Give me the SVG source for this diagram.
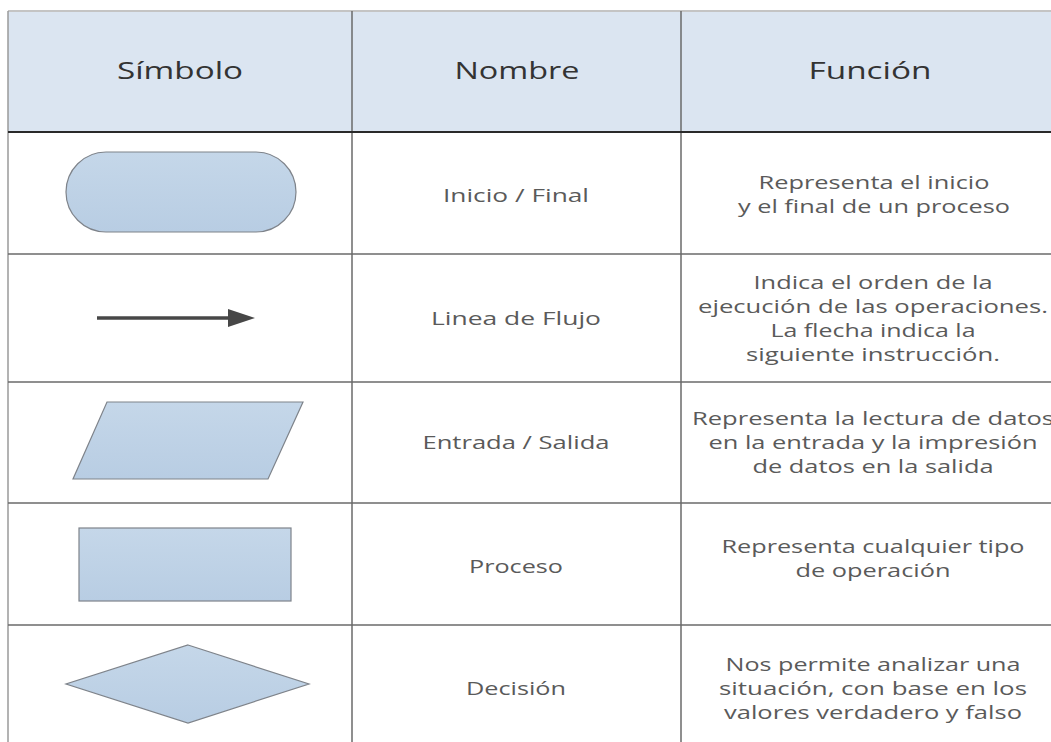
<svg xmlns="http://www.w3.org/2000/svg" width="1051" height="742" viewBox="0 0 1051 742">
<style>
.hdr{font-family:"Open Sans","Noto Sans",sans-serif;font-size:24px;font-weight:500;fill:#333333;text-anchor:middle}
.name{font-family:"Open Sans","Noto Sans",sans-serif;font-size:19px;fill:#5a5a5a;text-anchor:middle}
.desc{font-family:"Open Sans","Noto Sans",sans-serif;font-size:19px;fill:#5a5a5a;text-anchor:middle}
.grid{stroke:#6a6a6a;stroke-width:1.5;fill:none}
.shape{fill:url(#blue);stroke:#7e838a;stroke-width:1.2}
</style>
<defs>
<linearGradient id="blue" x1="0" y1="0" x2="0" y2="1">
<stop offset="0" stop-color="#c5d7e9"/>
<stop offset="1" stop-color="#b8cde3"/>
</linearGradient>
</defs>
<rect width="1051" height="742" fill="#ffffff"/>
<g id="header">
<rect x="8" y="11" width="1043" height="121" fill="#dbe5f1"/>
<line x1="8" y1="11" x2="1051" y2="11" stroke="#c4c4c4" stroke-width="2"/>
<text class="hdr" x="180" y="79" textLength="126" lengthAdjust="spacingAndGlyphs">Símbolo</text>
<text class="hdr" x="517" y="79" textLength="125" lengthAdjust="spacingAndGlyphs">Nombre</text>
<text class="hdr" x="870" y="79" textLength="123" lengthAdjust="spacingAndGlyphs">Función</text>
</g>
<g id="grid">
<line x1="8" y1="11" x2="8" y2="742" stroke="#9a9a9a" stroke-width="1.5"/>
<line class="grid" x1="352" y1="11" x2="352" y2="742"/>
<line class="grid" x1="681" y1="11" x2="681" y2="742"/>
<line x1="8" y1="132" x2="1051" y2="132" stroke="#2a2a2a" stroke-width="2"/>
<line class="grid" x1="8" y1="254" x2="1051" y2="254"/>
<line class="grid" x1="8" y1="382" x2="1051" y2="382"/>
<line class="grid" x1="8" y1="503" x2="1051" y2="503"/>
<line class="grid" x1="8" y1="625" x2="1051" y2="625"/>
</g>
<g id="row-inicio">
<rect class="shape" x="66" y="152" width="230" height="80" rx="40" ry="40"/>
<text class="name" x="516" y="202" textLength="146" lengthAdjust="spacingAndGlyphs">Inicio / Final</text>
<text class="desc" x="874" y="189" textLength="231" lengthAdjust="spacingAndGlyphs">Representa el inicio</text>
<text class="desc" x="874" y="213" textLength="272" lengthAdjust="spacingAndGlyphs">y el final de un proceso</text>
</g>
<g id="row-flujo">
<line x1="97" y1="318" x2="232" y2="318" stroke="#474747" stroke-width="3.5"/>
<polygon points="228,309 255,318 228,327" fill="#474747"/>
<text class="name" x="516" y="325" textLength="170" lengthAdjust="spacingAndGlyphs">Linea de Flujo</text>
<text class="desc" x="873" y="289" textLength="239" lengthAdjust="spacingAndGlyphs">Indica el orden de la</text>
<text class="desc" x="873" y="313" textLength="350" lengthAdjust="spacingAndGlyphs">ejecución de las operaciones.</text>
<text class="desc" x="873" y="337" textLength="205" lengthAdjust="spacingAndGlyphs">La flecha indica la</text>
<text class="desc" x="873" y="361" textLength="254" lengthAdjust="spacingAndGlyphs">siguiente instrucción.</text>
</g>
<g id="row-entrada">
<polygon class="shape" points="107,402 303,402 268,479 73,479"/>
<text class="name" x="516" y="449" textLength="187" lengthAdjust="spacingAndGlyphs">Entrada / Salida</text>
<text class="desc" x="873" y="425" textLength="362" lengthAdjust="spacingAndGlyphs">Representa la lectura de datos</text>
<text class="desc" x="873" y="449" textLength="329" lengthAdjust="spacingAndGlyphs">en la entrada y la impresión</text>
<text class="desc" x="873" y="473" textLength="241" lengthAdjust="spacingAndGlyphs">de datos en la salida</text>
</g>
<g id="row-proceso">
<rect class="shape" x="79" y="528" width="212" height="73"/>
<text class="name" x="516" y="573" textLength="94" lengthAdjust="spacingAndGlyphs">Proceso</text>
<text class="desc" x="873" y="553" textLength="303" lengthAdjust="spacingAndGlyphs">Representa cualquier tipo</text>
<text class="desc" x="873" y="577" textLength="155" lengthAdjust="spacingAndGlyphs">de operación</text>
</g>
<g id="row-decision">
<polygon class="shape" points="188,645 309,684 188,723 66,684"/>
<text class="name" x="516" y="695" textLength="100" lengthAdjust="spacingAndGlyphs">Decisión</text>
<text class="desc" x="873" y="671" textLength="295" lengthAdjust="spacingAndGlyphs">Nos permite analizar una</text>
<text class="desc" x="873" y="695" textLength="308" lengthAdjust="spacingAndGlyphs">situación, con base en los</text>
<text class="desc" x="873" y="719" textLength="298" lengthAdjust="spacingAndGlyphs">valores verdadero y falso</text>
</g>
</svg>
